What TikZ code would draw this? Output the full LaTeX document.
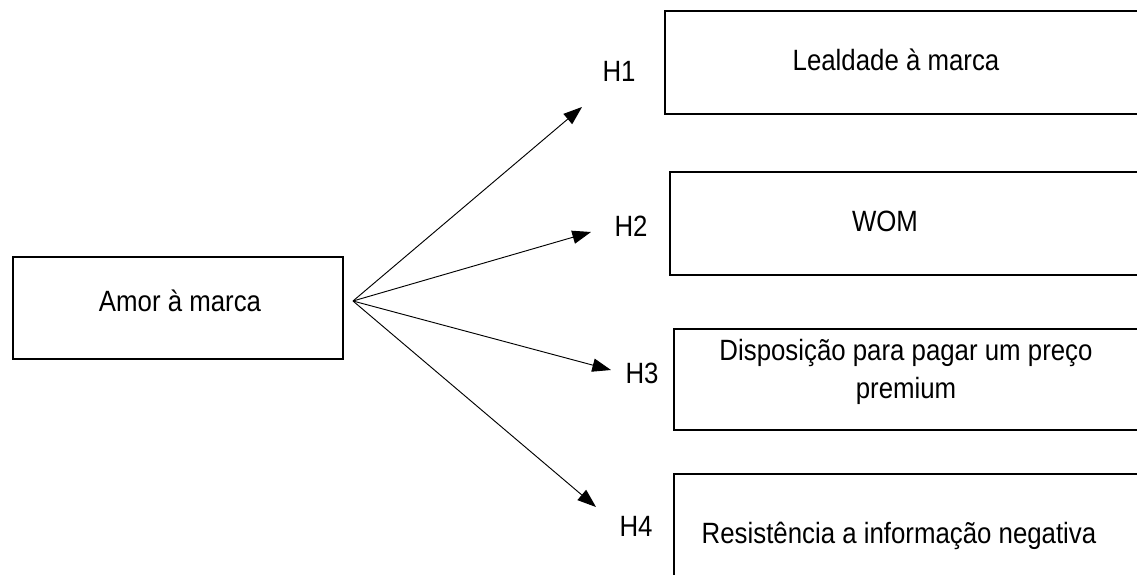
\documentclass[tikz,border=0pt]{standalone}
\usepackage{fontspec}
\setmainfont{Liberation Sans}[FakeStretch=0.88]
\usetikzlibrary{arrows.meta}
\tikzset{
  boxnode/.style={draw, line width=1.3pt, rectangle, anchor=north west, inner sep=0pt},
  txt/.style={inner sep=0pt, font=\fontsize{22}{28}\selectfont, align=center},
  hyp/.style={-{Triangle[length=14pt,width=10pt]}, line width=0.7pt}
}
\begin{document}
\begin{tikzpicture}[x=0.75pt,y=-0.75pt]
\useasboundingbox (0,0) rectangle (1137,574);
\clip (0,0) rectangle (1137,574);
% boxes
\node[boxnode, minimum width=330*0.75pt, minimum height=102*0.75pt] (src) at (12,256) {};
\node[boxnode, minimum width=500*0.75pt, minimum height=103*0.75pt] (b1) at (664,10) {};
\node[boxnode, minimum width=500*0.75pt, minimum height=103*0.75pt] (b2) at (669,171) {};
\node[boxnode, minimum width=500*0.75pt, minimum height=101*0.75pt] (b3) at (673,328) {};
\node[boxnode, minimum width=500*0.75pt, minimum height=150*0.75pt] (b4) at (673,473) {};
% texts
\node[txt] (tsrc) at (180,301) {Amor à marca};
\node[txt] (t1) at (896,60) {Lealdade à marca};
\node[txt] (t2) at (885,221) {WOM};
\node[txt] (t3) at (906,372) {Disposição para pagar um preço\\premium};
\node[txt] (t4) at (899,536) {Resistência a informação negativa};
% labels
\node[txt] (h1) at (619,71) {H1};
\node[txt] (h2) at (631,226) {H2};
\node[txt] (h3) at (642,373) {H3};
\node[txt] (h4) at (636,526) {H4};
% arrows
\coordinate (o) at (353,301);
\coordinate (e1) at (582,107);
\coordinate (e2) at (591,232);
\coordinate (e3) at (611,370);
\coordinate (e4) at (596,507);
\draw[hyp] (o) -- (e1);
\draw[hyp] (o) -- (e2);
\draw[hyp] (o) -- (e3);
\draw[hyp] (o) -- (e4);
\end{tikzpicture}
\end{document}
